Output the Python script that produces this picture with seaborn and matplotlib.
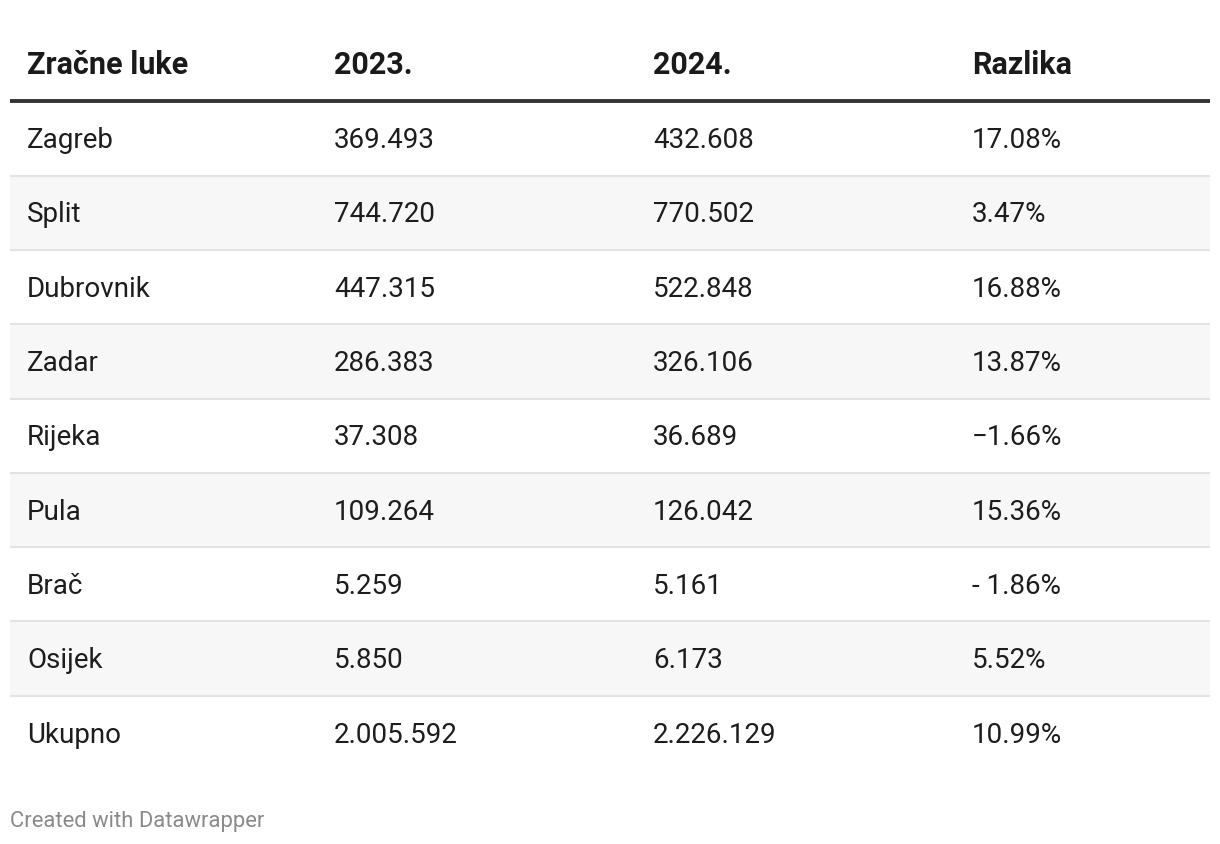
import numpy as np
import pandas as pd
import seaborn as sns
from matplotlib import pyplot as plt
from matplotlib.colors import ListedColormap
from matplotlib.transforms import blended_transform_factory

# table content
headers = ['Zračne luke', '2023.', '2024.', 'Razlika']
airports = ['Zagreb', 'Split', 'Dubrovnik', 'Zadar', 'Rijeka', 'Pula', 'Brač', 'Osijek', 'Ukupno']
passengers_2023 = [369493, 744720, 447315, 286383, 37308, 109264, 5259, 5850, 2005592]
passengers_2024 = [432608, 770502, 522848, 326106, 36689, 126042, 5161, 6173, 2226129]
razlika = ['17.08%', '3.47%', '16.88%', '13.87%', '\u22121.66%', '15.36%', '- 1.86%', '5.52%', '10.99%']


def fmt(v):
    # croatian thousands separator
    return f'{v:,}'.replace(',', '.')


sns.set_theme(style='white')
plt.rcParams['font.family'] = ['Roboto', 'DejaVu Sans']

W, H = 1220, 844
fig = plt.figure(figsize=(W / 100, H / 100), dpi=100)
top_px, row_px = 27, 74.3
n_rows = len(airports) + 1
ax = fig.add_axes([10 / W, 1 - (top_px + n_rows * row_px) / H, 1200 / W, n_rows * row_px / H])

# zebra stripes: header row + data rows, every second data row shaded
stripes = pd.DataFrame({'s': [0] + [i % 2 for i in range(len(airports))]},
                       index=['header'] + airports)
sns.heatmap(stripes, ax=ax, cmap=ListedColormap(['white', '#f7f7f7']), vmin=0, vmax=1,
            cbar=False, xticklabels=False, yticklabels=False)
ax.set_xlabel('')
ax.set_ylabel('')

# separators
for r in range(2, n_rows):
    ax.axhline(r, color='#e3e3e3', lw=1.5)
ax.axhline(1, color='#333333', lw=2.8)

tr = blended_transform_factory(ax.transAxes, ax.transData)
col_x = [17 / 1200, 324 / 1200, 643 / 1200, 962 / 1200]
base_off = 0.13
fs = 20

for x, h in zip(col_x, headers):
    ax.text(x, 0.5 + base_off, h, transform=tr, fontsize=22, fontweight='bold',
            color='#1a1a1a', va='baseline', ha='left')

for i, name in enumerate(airports):
    y = i + 1.5 + base_off
    cells = [name, fmt(passengers_2023[i]), fmt(passengers_2024[i]), razlika[i]]
    for x, c in zip(col_x, cells):
        ax.text(x, y, c, transform=tr, fontsize=fs, color='#1d1d1d',
                va='baseline', ha='left')

fig.text(10 / W, 1 - 822 / H, 'Created with Datawrapper', fontsize=15.8,
         color='#8a8a8a', va='center', ha='left')

fig.savefig('out.png', dpi=100)
